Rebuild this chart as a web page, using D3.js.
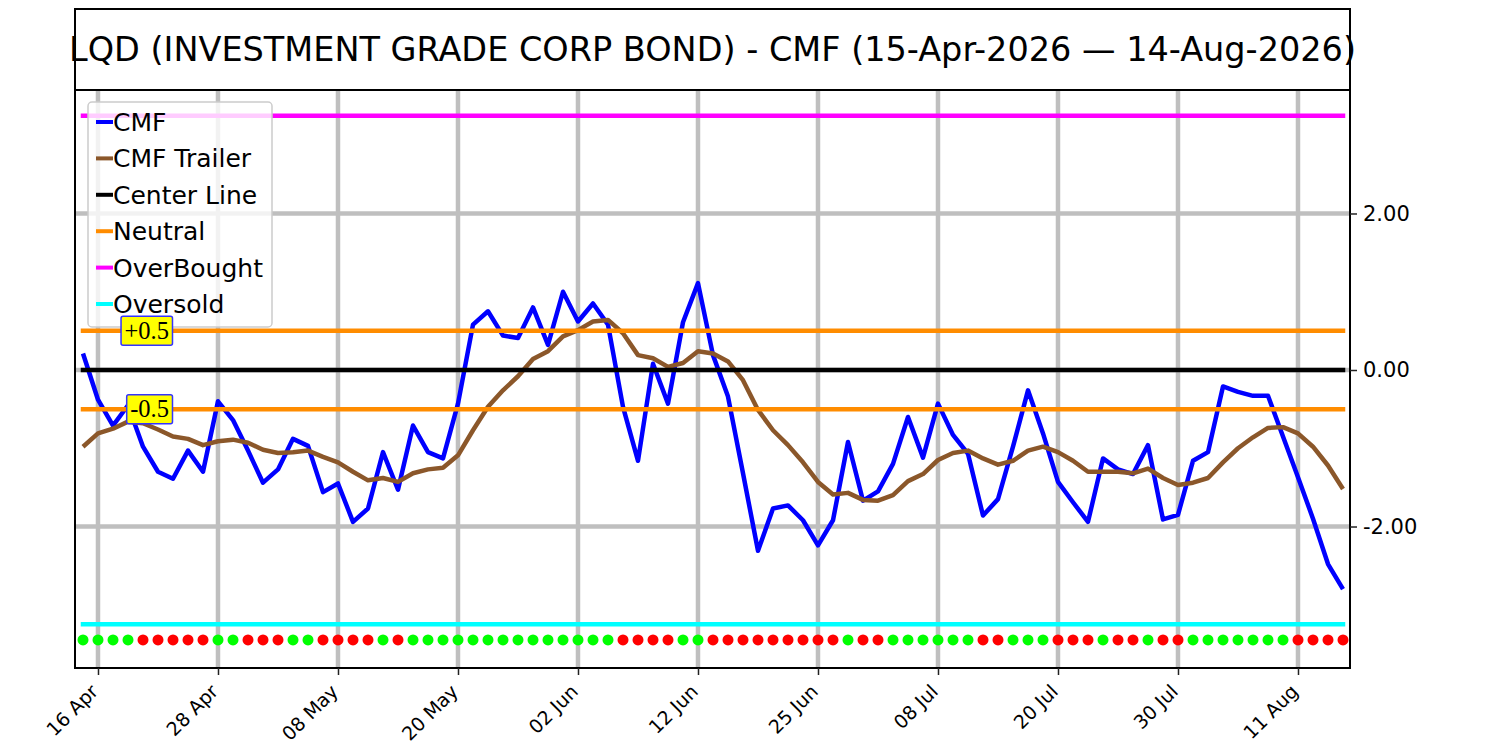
<!DOCTYPE html>
<html>
<head>
<meta charset="utf-8">
<script src="https://cdn.jsdelivr.net/npm/d3@7"></script>
<style>
  body { margin: 0; background: #fff; }
  svg { display: block; font-family: "DejaVu Sans", sans-serif; }
</style>
</head>
<body>
<div id="chart"></div>
<script>
// trading calendar 15-Apr-2026 .. 14-Aug-2026 (weekends + market holidays skipped)
var startDay = "2026-04-15", endDay = "2026-08-14";
var holidays = ["2026-05-25", "2026-06-19", "2026-07-03"];

var cmf = [0.21,-0.38,-0.71,-0.45,-0.98,-1.30,-1.39,-1.03,-1.30,-0.40,
  -0.64,-1.03,-1.44,-1.27,-0.88,-0.97,-1.56,-1.45,-1.94,-1.77,
  -1.05,-1.53,-0.71,-1.05,-1.13,-0.43,0.58,0.75,0.44,0.41,
  0.80,0.32,1.00,0.62,0.85,0.58,-0.47,-1.16,0.08,-0.43,
  0.61,1.11,0.19,-0.34,-1.32,-2.31,-1.77,-1.73,-1.92,-2.24,
  -1.92,-0.92,-1.67,-1.55,-1.20,-0.60,-1.12,-0.43,-0.83,-1.07,
  -1.86,-1.65,-0.98,-0.26,-0.81,-1.43,-1.69,-1.94,-1.13,-1.27,
  -1.33,-0.96,-1.91,-1.85,-1.16,-1.05,-0.21,-0.28,-0.33,-0.33,
  -0.85,-1.37,-1.90,-2.48,-2.80];

var trailer = [-0.98,-0.81,-0.75,-0.66,-0.68,-0.76,-0.85,-0.88,-0.96,-0.91,
  -0.89,-0.93,-1.02,-1.06,-1.05,-1.03,-1.11,-1.18,-1.30,-1.41,
  -1.38,-1.43,-1.32,-1.27,-1.25,-1.09,-0.77,-0.47,-0.26,-0.08,
  0.14,0.24,0.43,0.51,0.62,0.64,0.47,0.19,0.15,0.04,
  0.09,0.24,0.21,0.11,-0.13,-0.51,-0.77,-0.96,-1.18,-1.43,
  -1.59,-1.57,-1.66,-1.67,-1.60,-1.42,-1.33,-1.15,-1.06,-1.03,
  -1.13,-1.21,-1.16,-1.03,-0.98,-1.05,-1.16,-1.30,-1.30,-1.30,
  -1.32,-1.26,-1.38,-1.47,-1.44,-1.38,-1.18,-1.00,-0.86,-0.74,
  -0.73,-0.81,-0.98,-1.22,-1.52];

// 1 = green dot (bullish), 0 = red dot
var signal = [1,1,1,1,0,0,0,0,0,1,
  1,0,0,0,1,1,0,0,0,0,
  1,0,1,1,1,1,1,1,1,1,
  1,1,1,1,1,1,0,0,0,0,
  1,1,0,0,0,0,0,0,0,0,
  0,1,0,0,1,1,1,1,1,1,
  0,0,1,1,1,0,0,0,1,0,
  0,1,0,0,1,1,1,1,1,1,
  1,0,0,0,0];

var tickDays = ["2026-04-16","2026-04-28","2026-05-08","2026-05-20","2026-06-02","2026-06-12",
  "2026-06-25","2026-07-08","2026-07-20","2026-07-30","2026-08-11"];
var yTicks = [2, 0, -2];

var centerLevel = 0, neutralLevels = [0.5, -0.5], overBought = 3.25, overSold = -3.25, dotLevel = -3.45;
var ylim = [-3.808, 3.578];
var title = "LQD (INVESTMENT GRADE CORP BOND) - CMF (15-Apr-2026 \u2014 14-Aug-2026)";

var parse = d3.timeParse("%Y-%m-%d"), fmtKey = d3.timeFormat("%Y-%m-%d");
var days = d3.timeDay.range(parse(startDay), d3.timeDay.offset(parse(endDay), 1))
  .filter(function (d) { return d.getDay() != 0 && d.getDay() != 6 && holidays.indexOf(fmtKey(d)) < 0; })
  .map(fmtKey);

var data = days.map(function (d, i) {
  return { day: d, i: i, cmf: cmf[i], trailer: trailer[i], sig: signal[i] };
});

var W = 1500, H = 750;
var margin = { top: 90, right: 150, bottom: 82, left: 75 };
var width = W - margin.left - margin.right,
  height = H - margin.top - margin.bottom;

var svg = d3.select("#chart").append("svg")
  .attr("width", W).attr("height", H);

// title box
svg.append("rect")
  .attr("x", margin.left).attr("y", 9)
  .attr("width", width).attr("height", margin.top - 9)
  .attr("fill", "none").attr("stroke", "#000").attr("stroke-width", 2);
svg.append("text")
  .attr("x", margin.left + width / 2).attr("y", 61)
  .attr("text-anchor", "middle")
  .style("font-size", "33.5px")
  .text(title);

var g = svg.append("g")
  .attr("transform", "translate(" + margin.left + "," + margin.top + ")");

var x = d3.scaleLinear().domain([-0.533, days.length - 1 + 0.467]).range([0, width]);
var y = d3.scaleLinear().domain(ylim).range([height, 0]);
var xi = function (day) { return x(days.indexOf(day)); };

// grid
g.append("g").selectAll("line").data(tickDays).enter().append("line")
  .attr("x1", xi).attr("x2", xi).attr("y1", 0).attr("y2", height)
  .attr("stroke", "#bfbfbf").attr("stroke-width", 4.5);
g.append("g").selectAll("line").data(yTicks).enter().append("line")
  .attr("x1", 0).attr("x2", width).attr("y1", y).attr("y2", y)
  .attr("stroke", "#bfbfbf").attr("stroke-width", 4.5);

var line = function (key) {
  return d3.line().x(function (d) { return x(d.i); }).y(function (d) { return y(d[key]); });
};

g.append("path").datum(data).attr("d", line("cmf"))
  .attr("fill", "none").attr("stroke", "#0000ff").attr("stroke-width", 4.5).attr("stroke-linejoin", "round");
g.append("path").datum(data).attr("d", line("trailer"))
  .attr("fill", "none").attr("stroke", "#8b572a").attr("stroke-width", 4.5).attr("stroke-linejoin", "round");

var hline = function (v, color) {
  g.append("line")
    .attr("x1", x(0)).attr("x2", x(days.length - 1))
    .attr("y1", y(v)).attr("y2", y(v))
    .attr("stroke", color).attr("stroke-width", 4.5).attr("stroke-linecap", "square");
};
hline(centerLevel, "#000000");
neutralLevels.forEach(function (v) { hline(v, "#ff8c00"); });
hline(overBought, "#ff00ff");
hline(overSold, "#00ffff");

// signal dots
g.append("g").selectAll("circle").data(data).enter().append("circle")
  .attr("cx", function (d) { return x(d.i); })
  .attr("cy", y(dotLevel))
  .attr("r", 5.5)
  .attr("fill", function (d) { return d.sig ? "#00ff00" : "#ff0000"; });

// frame
g.append("rect").attr("width", width).attr("height", height)
  .attr("fill", "none").attr("stroke", "#000").attr("stroke-width", 2);

// axes
var xAxis = g.append("g")
  .attr("transform", "translate(0," + height + ")")
  .call(d3.axisBottom(x)
    .tickValues(tickDays.map(function (d) { return days.indexOf(d); }))
    .tickSize(7)
    .tickFormat(function (i) { return d3.timeFormat("%d %b")(parse(days[i])); }));
xAxis.select(".domain").remove();
xAxis.selectAll("line").attr("stroke", "#222").attr("stroke-width", 1.5);
xAxis.selectAll("text")
  .attr("y", 0).attr("dy", "0.35em")
  .attr("text-anchor", "end")
  .attr("transform", "translate(-4,20) rotate(-45)")
  .style("font-size", "19px").attr("fill", "#000")
  .style("font-family", "'DejaVu Sans', sans-serif");

var yAxis = g.append("g")
  .attr("transform", "translate(" + width + ",0)")
  .call(d3.axisRight(y).tickValues(yTicks).tickSize(7).tickPadding(6)
    .tickFormat(function (d) { return d3.format(".2f")(d).replace("\u2212", "-"); }));
yAxis.select(".domain").remove();
yAxis.selectAll("line").attr("stroke", "#222").attr("stroke-width", 1.5);
yAxis.selectAll("text")
  .style("font-size", "21px").attr("fill", "#000")
  .style("font-family", "'DejaVu Sans', sans-serif");

// legend
var legendItems = [
  { name: "CMF", color: "#0000ff" },
  { name: "CMF Trailer", color: "#8b572a" },
  { name: "Center Line", color: "#000000" },
  { name: "Neutral", color: "#ff8c00" },
  { name: "OverBought", color: "#ff00ff" },
  { name: "Oversold", color: "#00ffff" }
];
var lg = svg.append("g").attr("transform", "translate(88,102)");
lg.append("rect").attr("width", 184).attr("height", 225).attr("rx", 4)
  .attr("fill", "#fff").attr("fill-opacity", 0.8)
  .attr("stroke", "#cccccc").attr("stroke-width", 1.5);
var li = lg.selectAll("g.item").data(legendItems).enter().append("g")
  .attr("class", "item")
  .attr("transform", function (d, i) { return "translate(0," + (20 + i * 36.4) + ")"; });
li.append("line").attr("x1", 8).attr("x2", 25)
  .attr("stroke", function (d) { return d.color; }).attr("stroke-width", 4);
li.append("text").attr("x", 25).attr("dy", "0.36em")
  .style("font-size", "25px")
  .text(function (d) { return d.name; });

// +0.5 / -0.5 tags, drawn above the legend
var tags = svg.append("g")
  .attr("transform", "translate(" + margin.left + "," + margin.top + ")");
neutralLevels.forEach(function (v) {
  var tg = tags.append("g");
  var t = tg.append("text")
    .attr("x", x(6) - 4).attr("y", y(v)).attr("dy", "0.34em")
    .attr("text-anchor", "end")
    .style("font-family", "'Liberation Serif', serif")
    .style("font-size", "24.5px")
    .text((v > 0 ? "+" : "") + v);
  var bb = t.node().getBBox();
  tg.insert("rect", "text")
    .attr("x", bb.x - 3.5).attr("y", y(v) - 14.5)
    .attr("width", bb.width + 7).attr("height", 29)
    .attr("rx", 2)
    .attr("fill", "#ffff00").attr("stroke", "#3333ff").attr("stroke-width", 1.5);
});
</script>
</body>
</html>
